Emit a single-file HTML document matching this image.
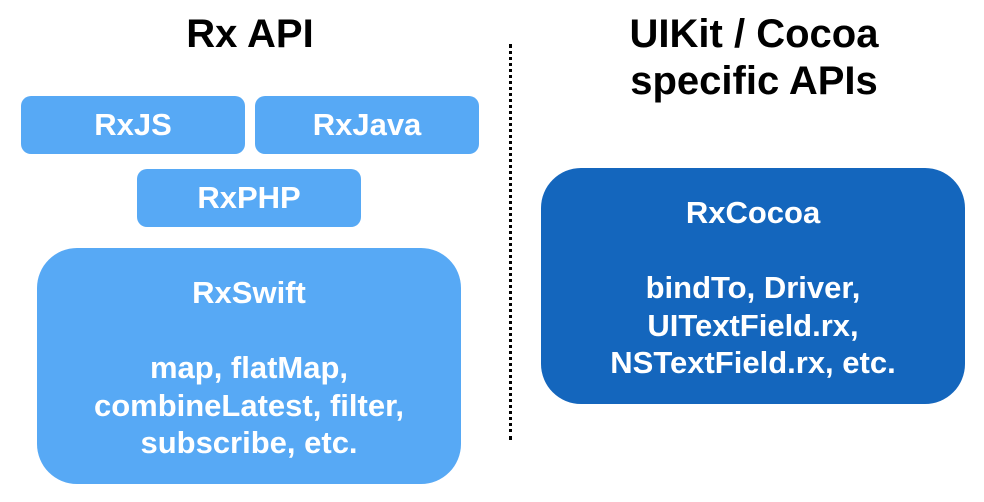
<!DOCTYPE html>
<html><head><style>
body{margin:0;width:984px;height:502px;background:#fff;position:relative;font-family:"Liberation Sans",Arial,sans-serif;font-weight:bold;overflow:hidden}
.t{position:absolute;color:#000;font-size:40px;text-align:center;line-height:47px}
.b{position:absolute;background:#57a9f5;color:#fff;font-size:31px;text-align:center;display:flex;align-items:center;justify-content:center;border-radius:10px}
.big{position:absolute;color:#fff;font-size:31px;text-align:center;line-height:37.5px;border-radius:40px}
</style></head><body>
<div class="t" style="left:100px;top:11px;width:300px">Rx API</div>
<div class="t" style="left:504px;top:11px;width:500px">UIKit / Cocoa<br>specific APIs</div>
<div style="position:absolute;left:509px;top:44px;height:396px;border-left:3px dotted #000"></div>
<div class="b" style="left:21px;top:96px;width:224px;height:58px">RxJS</div>
<div class="b" style="left:255px;top:96px;width:224px;height:58px">RxJava</div>
<div class="b" style="left:137px;top:169px;width:224px;height:58px">RxPHP</div>
<div class="big" style="left:37px;top:248px;width:424px;height:236px;background:#57a9f5"><div style="padding-top:26px">RxSwift<br><br>map, flatMap,<br>combineLatest, filter,<br>subscribe, etc.</div></div>
<div class="big" style="left:541px;top:168px;width:424px;height:236px;background:#1466bd"><div style="padding-top:26px">RxCocoa<br><br>bindTo, Driver,<br>UITextField.rx,<br>NSTextField.rx, etc.</div></div>
</body></html>
